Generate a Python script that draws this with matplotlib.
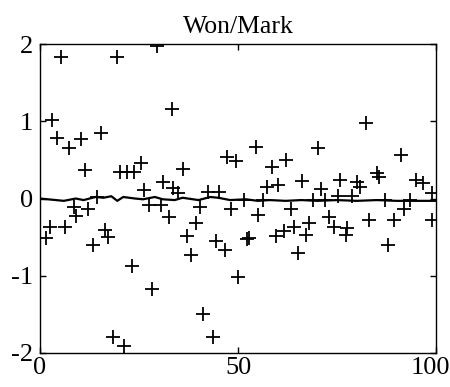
import matplotlib
matplotlib.use("Agg")
import matplotlib.pyplot as plt
from matplotlib.transforms import ScaledTranslation

title = "Won/Mark"
x_ticks = [0, 50, 100]
y_ticks = [-2, -1, 0, 1, 2]

pts_x = [1.5, 2.4, 3.0, 4.4, 5.3, 6.3, 7.4, 8.5, 9.2, 10.4, 11.4, 12.0, 13.3, 14.3, 15.4,
         16.4, 17.2, 18.4, 19.4, 20.2, 21.3, 21.9, 23.2, 23.8, 25.4, 26.3, 27.4, 28.2, 29.5,
         30.6, 31.1, 32.6, 33.3, 33.6, 34.8, 36.0, 37.2, 38.1, 39.4, 40.3, 41.1, 42.3, 43.6,
         44.4, 45.2, 46.7, 47.3, 48.3, 49.6, 50.1, 51.6, 52.2, 52.8, 54.5, 55.1, 56.4, 57.2,
         58.5, 59.6, 60.1, 61.7, 62.1, 63.4, 64.2, 65.2, 66.1, 67.2, 68.0, 69.0, 70.3, 71.0,
         72.0, 73.0, 74.3, 75.3, 75.8, 77.3, 77.6, 78.7, 80.0, 80.7, 82.3, 83.1, 85.2, 85.7,
         87.1, 87.9, 89.5, 91.2, 91.9, 93.4, 95.0, 96.6, 99.1, 99.1]
pts_y = [-0.51, -0.37, 1.02, 0.79, 1.83, -0.37, 0.65, -0.11, -0.22, 0.77, 0.37, -0.13, -0.60, 0.02, 0.85,
         -0.41, -0.50, -1.79, 1.83, 0.34, -1.91, 0.34, -0.87, 0.34, 0.46, 0.11, -0.08, -1.17, 1.98,
         -0.09, 0.21, -0.24, 1.16, 0.13, 0.07, 0.38, -0.49, -0.73, -0.32, -0.11, -1.49, 0.08, -1.79,
         -0.55, 0.08, -0.67, 0.54, -0.13, 0.48, -1.01, -0.02, -0.53, -0.51, 0.67, -0.21, -0.02, 0.15,
         0.41, -0.49, 0.17, -0.42, 0.50, -0.14, -0.37, -0.71, 0.23, -0.47, -0.32, -0.02, 0.65, 0.12,
         -0.02, -0.24, -0.37, 0.03, 0.24, -0.47, -0.38, 0.03, 0.21, 0.15, 0.98, -0.28, 0.33, 0.28,
         -0.02, -0.60, -0.28, 0.56, -0.13, -0.02, 0.24, 0.20, 0.07, -0.28]

line_x = [0, 2, 4, 6, 9, 11, 14, 16, 18, 19.5, 21, 24, 26, 29, 31, 34, 36, 40, 43, 45, 48,
          52, 55, 58, 62, 66, 70, 75, 80, 85, 90, 95, 100]
line_y = [0.0, -0.01, -0.02, -0.03, 0.0, -0.02, 0.02, 0.01, 0.03, -0.03, 0.02, 0.0, -0.01,
          0.02, -0.01, -0.02, 0.01, -0.02, 0.02, 0.01, -0.02, -0.01, -0.03, -0.02, -0.03,
          -0.02, -0.03, -0.02, -0.03, -0.02, -0.03, -0.03, -0.03]

plt.rcParams['font.family'] = ['Liberation Serif', 'DejaVu Serif']
plt.rcParams['axes.unicode_minus'] = False

fig = plt.figure(figsize=(4.5, 3.87), dpi=100)
ax = fig.add_axes([0.089, 0.088, 0.88, 0.798])

ax.plot(pts_x, pts_y, linestyle='none', marker='+', markersize=9.5, markeredgewidth=1.3,
        color='black')
ax.plot(line_x, line_y, color='black', linewidth=1.6)

ax.set_xlim(0, 100)
ax.set_ylim(-2, 2)
ax.set_xticks(x_ticks)
ax.set_yticks(y_ticks)
ax.tick_params(direction='in', length=4, width=1, labelsize=19, top=True, right=True)
ax.tick_params(axis='x', pad=3)
ax.tick_params(axis='y', pad=5)
for s in ax.spines.values():
    s.set_linewidth(1)
ax.set_title(title, fontsize=18.5, pad=8)

fig.canvas.draw()
last = ax.get_xticklabels()[-1]
last.set_transform(last.get_transform() + ScaledTranslation(-6 / 100, 0, fig.dpi_scale_trans))

fig.savefig("out.png", dpi=100)
